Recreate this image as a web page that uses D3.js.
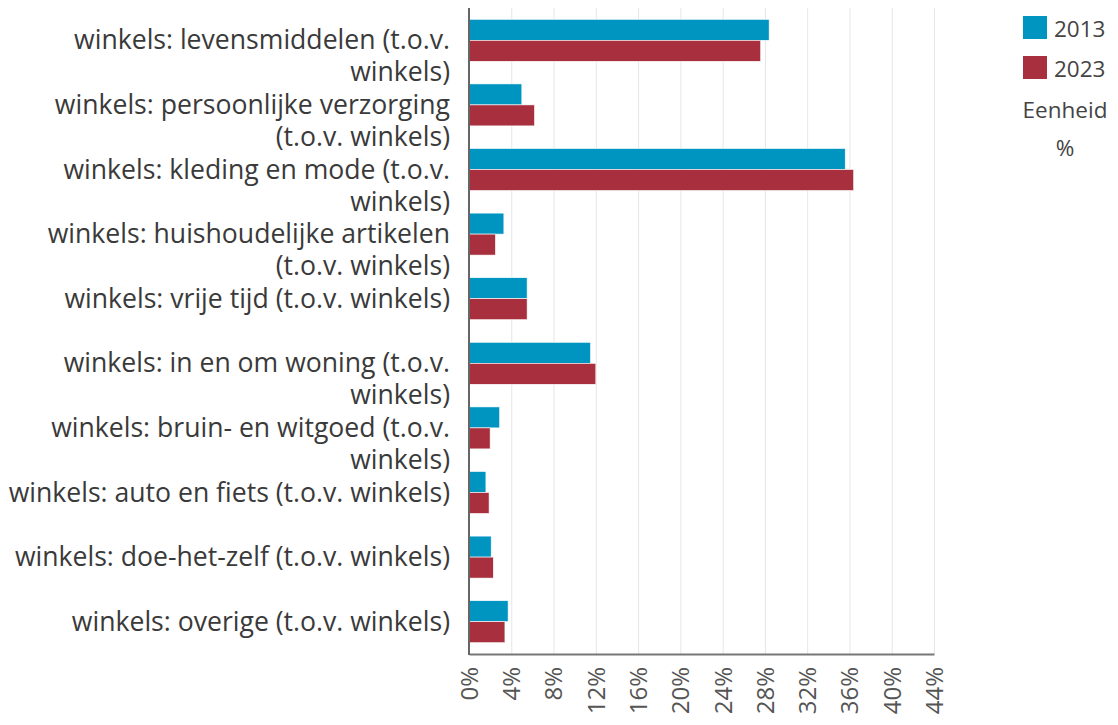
<!DOCTYPE html>
<html>
<head>
<meta charset="utf-8">
<script src="https://cdn.jsdelivr.net/npm/d3@7"></script>
<style>
  html, body { margin: 0; padding: 0; background: #fff; }
  svg { display: block; font-family: "Open Sans", "Noto Sans", sans-serif; }
</style>
</head>
<body>
<svg id="chart" width="1118" height="725"></svg>
<script>
// Category labels, one entry per line of the wrapped label
const categories = [
  ["winkels: levensmiddelen (t.o.v.", "winkels)"],
  ["winkels: persoonlijke verzorging", "(t.o.v. winkels)"],
  ["winkels: kleding en mode (t.o.v.", "winkels)"],
  ["winkels: huishoudelijke artikelen", "(t.o.v. winkels)"],
  ["winkels: vrije tijd (t.o.v. winkels)"],
  ["winkels: in en om woning (t.o.v.", "winkels)"],
  ["winkels: bruin- en witgoed (t.o.v.", "winkels)"],
  ["winkels: auto en fiets (t.o.v. winkels)"],
  ["winkels: doe-het-zelf (t.o.v. winkels)"],
  ["winkels: overige (t.o.v. winkels)"]
];
const seriesNames = ["2013", "2023"];
const values2013 = [28.4, 5.0, 35.6, 3.3, 5.5, 11.5, 2.9, 1.6, 2.1, 3.7];
const values2023 = [27.6, 6.2, 36.4, 2.5, 5.5, 12.0, 2.0, 1.9, 2.3, 3.4];
const tickValues = [0, 4, 8, 12, 16, 20, 24, 28, 32, 36, 40, 44];
const unitTitle = "Eenheid";
const unitLabel = "%";

const colors = ["#0095c1", "#a82f3e"];
const seriesValues = [values2013, values2023];

const svg = d3.select("#chart");
const plot = { left: 469, right: 934, top: 8, bottom: 654 };

const x = d3.scaleLinear().domain([0, 44]).range([plot.left, plot.right]);
const y = d3.scaleBand()
  .domain(d3.range(categories.length))
  .range([plot.top, plot.bottom])
  .paddingInner(0.35)
  .paddingOuter(0.175);
const ySub = d3.scaleBand().domain(d3.range(seriesNames.length)).range([0, y.bandwidth()]);

// vertical gridlines
svg.append("g")
  .selectAll("line")
  .data(tickValues.filter(d => d > 0))
  .join("line")
  .attr("x1", d => x(d) + 0.5).attr("x2", d => x(d) + 0.5)
  .attr("y1", plot.top).attr("y2", plot.bottom)
  .attr("stroke", "#e6e6e6").attr("stroke-width", 1);

// bars
const groups = svg.append("g")
  .selectAll("g")
  .data(categories.map((c, i) => i))
  .join("g")
  .attr("transform", i => `translate(0,${y(i)})`);

groups.selectAll("rect")
  .data(i => seriesValues.map((vals, s) => ({ s, v: vals[i] })))
  .join("rect")
  .attr("x", x(0))
  .attr("y", d => ySub(d.s))
  .attr("width", d => x(d.v) - x(0))
  .attr("height", ySub.bandwidth())
  .attr("fill", d => colors[d.s])
  .attr("stroke", "#fff")
  .attr("stroke-width", 0.6);

// x axis
const xAxis = svg.append("g")
  .attr("transform", `translate(0,${plot.bottom})`)
  .call(d3.axisBottom(x).tickValues(tickValues).tickFormat(d => d + "%").tickSize(0));
xAxis.select(".domain").attr("stroke", "#777").attr("stroke-width", 2);
xAxis.selectAll("text")
  .attr("font-size", 24)
  .attr("fill", "#555")
  .attr("font-family", "Open Sans, sans-serif")
  .attr("text-anchor", "end")
  .attr("transform", "rotate(-90)")
  .attr("x", -13)
  .attr("y", 0)
  .attr("dy", "0.35em");

// y axis line
svg.append("line")
  .attr("x1", plot.left).attr("x2", plot.left)
  .attr("y1", plot.top).attr("y2", plot.bottom + 1)
  .attr("stroke", "#666").attr("stroke-width", 2);

// category labels
const lineHeight = 32;
const labels = svg.append("g")
  .selectAll("text")
  .data(categories)
  .join("text")
  .attr("x", 450)
  .attr("y", (d, i) => y(i) + y.step() * 0.5 - y.step() * 0.175 + 9)
  .attr("text-anchor", "end")
  .attr("font-size", 26.6)
  .attr("fill", "#3a3a3a");
labels.each(function(lines) {
  const t = d3.select(this);
  const baseY = +t.attr("y");
  lines.forEach((ln, k) => {
    t.append("tspan").attr("x", 450).attr("y", baseY + k * lineHeight).text(ln);
  });
});

// legend
const legend = svg.append("g");
seriesNames.forEach((name, s) => {
  legend.append("rect")
    .attr("x", 1023).attr("y", 16 + s * 40)
    .attr("width", 24).attr("height", 23)
    .attr("fill", colors[s]);
  legend.append("text")
    .attr("x", 1054).attr("y", 37 + s * 40)
    .attr("font-size", 22.5).attr("fill", "#444")
    .text(name);
});
legend.append("text")
  .attr("x", 1065).attr("y", 118)
  .attr("text-anchor", "middle")
  .attr("font-size", 22.5).attr("fill", "#444")
  .text(unitTitle);
legend.append("text")
  .attr("x", 1065).attr("y", 156)
  .attr("text-anchor", "middle")
  .attr("font-size", 22.5).attr("fill", "#444")
  .text(unitLabel);
</script>
</body>
</html>
